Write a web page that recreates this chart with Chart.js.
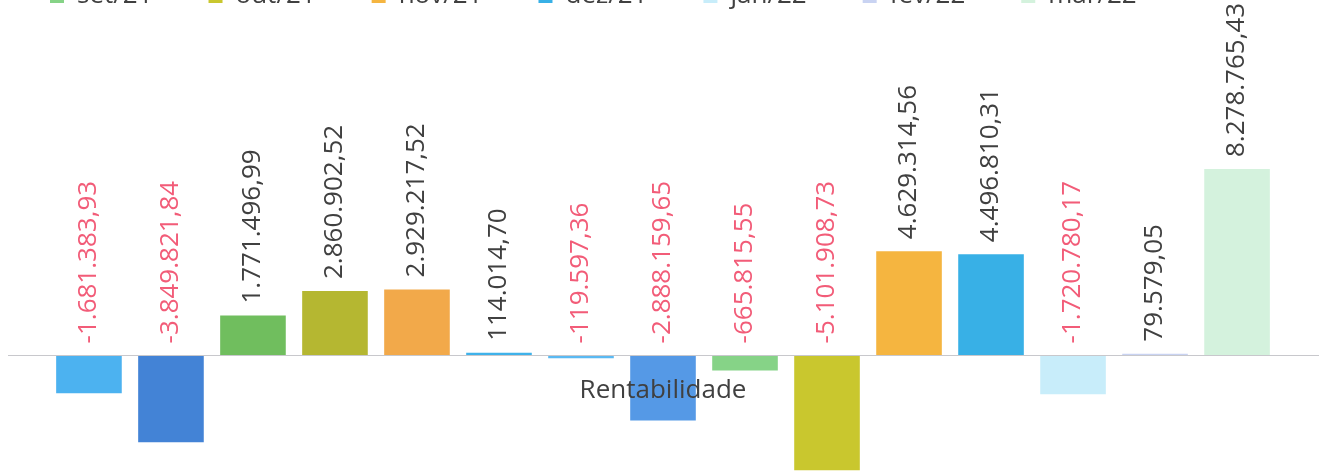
<!DOCTYPE html>
<html lang="pt-BR">
<head>
<meta charset="utf-8">
<title>Rentabilidade</title>
<script src="https://cdn.jsdelivr.net/npm/chart.js@4/dist/chart.umd.min.js"></script>
<style>
  html, body { margin: 0; padding: 0; background: #fff; overflow: hidden; }
  #wrap { position: relative; width: 1326px; height: 476px; overflow: hidden; background: #fff; }
  /* the first legend row sits above the visible crop, like in the scan */
  #chart { position: absolute; left: -6px; top: -155px; }
</style>
</head>
<body>
<div id="wrap">
  <canvas id="chart" width="1445" height="646"></canvas>
</div>
<script>
// --- data ---
const categories = ['Rentabilidade'];
const months = ['jan/21', 'fev/21', 'mar/21', 'abr/21', 'mai/21', 'jun/21', 'jul/21', 'ago/21',
                'set/21', 'out/21', 'nov/21', 'dez/21', 'jan/22', 'fev/22', 'mar/22'];
const values = [-1681383.93, -3849821.84, 1771496.99, 2860902.52, 2929217.52, 114014.70, -119597.36,
                -2888159.65, -665815.55, -5101908.73, 4629314.56, 4496810.31, -1720780.17, 79579.05, 8278765.43];

// one colour per month
const barColors = ['#4cb2f0', '#4383d6', '#70be5e', '#b5b731', '#f2a94a', '#3fb2ea', '#5ab9f2', '#5599e6',
                   '#86d387', '#c9c72e', '#f5b540', '#38b0e6', '#c8edfa', '#c9d3f2', '#d4f2dd'];

const FONT = "'Open Sans', 'Noto Sans', sans-serif";
const TEXT_GRAY = '#404040';
const TEXT_NEG = '#f25c78';

Chart.defaults.font.family = FONT;
Chart.defaults.color = TEXT_GRAY;

// 1234567.89 -> 1.234.567,89
function fmtBR(v) {
  const parts = Math.abs(v).toFixed(2).split('.');
  const intPart = parts[0].replace(/\B(?=(\d{3})+(?!\d))/g, '.');
  return (v < 0 ? '-' : '') + intPart + ',' + parts[1];
}

// vertical value labels above each bar (above the zero line for negatives)
const valueLabels = {
  id: 'valueLabels',
  afterDatasetsDraw(chart) {
    const ctx = chart.ctx;
    ctx.save();
    ctx.font = '26px ' + FONT;
    ctx.textAlign = 'left';
    ctx.textBaseline = 'middle';
    chart.data.datasets.forEach((ds, i) => {
      const bar = chart.getDatasetMeta(i).data[0];
      if (!bar) return;
      const v = ds.data[0];
      const top = Math.min(bar.y, bar.base);
      ctx.save();
      ctx.translate(bar.x, top - 12);
      ctx.rotate(-Math.PI / 2);
      ctx.fillStyle = v < 0 ? TEXT_NEG : TEXT_GRAY;
      ctx.fillText(fmtBR(v), 0, 0);
      ctx.restore();
    });
    ctx.restore();
  }
};

new Chart(document.getElementById('chart'), {
  type: 'bar',
  data: {
    labels: categories,
    datasets: months.map((m, i) => ({
      label: m,
      data: [values[i]],
      backgroundColor: barColors[i],
      borderWidth: 0
    }))
  },
  options: {
    responsive: false,
    devicePixelRatio: 1,
    animation: false,
    layout: { padding: 0 },
    datasets: {
      bar: { categoryPercentage: 0.939, barPercentage: 0.8 }
    },
    plugins: {
      legend: {
        position: 'top',
        align: 'start',
        labels: {
          boxWidth: 14,
          boxHeight: 14,
          padding: 56,
          color: TEXT_GRAY,
          font: { size: 26 }
        }
      },
      tooltip: { enabled: false }
    },
    scales: {
      x: {
        position: { y: 0 },
        grid: { display: false, drawTicks: false },
        border: { display: true, color: '#c8c8cc', width: 1, z: 1 },
        // category name is printed over the bars
        ticks: { color: TEXT_GRAY, font: { size: 26 }, padding: 20, z: 1 }
      },
      y: {
        position: 'left',
        min: -6020000,
        max: 14940000,
        grid: { display: false },
        border: { display: false },
        ticks: { display: false },
        afterFit: s => { s.width = 14; }
      },
      yRight: {
        position: 'right',
        grid: { display: false },
        border: { display: false },
        ticks: { display: false },
        afterFit: s => { s.width = 121; }
      }
    }
  },
  plugins: [valueLabels]
});
</script>
</body>
</html>
